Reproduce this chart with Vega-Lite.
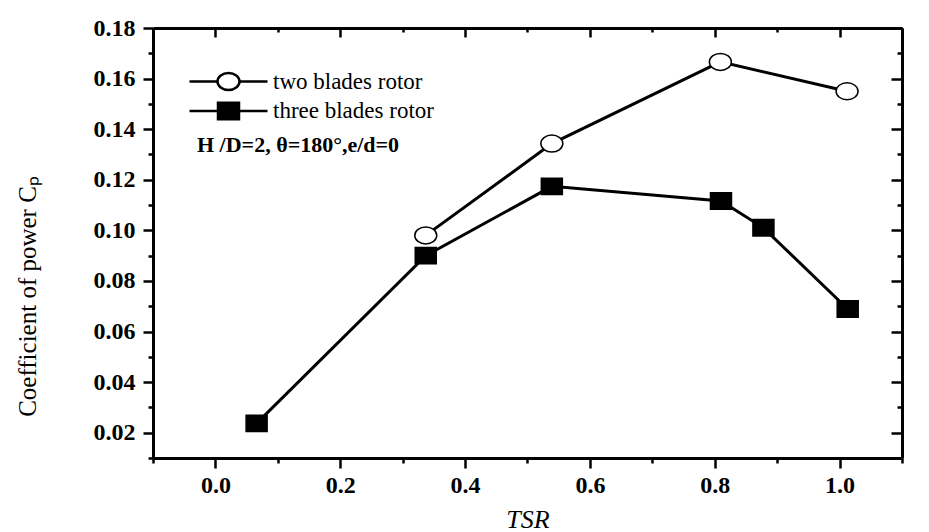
{
  "$schema": "https://vega.github.io/schema/vega-lite/v6.json",
  "width": 749,
  "height": 430,
  "autosize": "none",
  "padding": {"left": 153, "top": 28, "right": 27, "bottom": 74},
  "background": "white",
  "config": {
    "view": {"stroke": null},
    "axis": {
      "grid": false,
      "domainColor": "black",
      "domainWidth": 3,
      "tickColor": "black",
      "tickWidth": 2.5,
      "labelFont": "Liberation Serif",
      "labelFontWeight": "bold",
      "labelFontSize": 24,
      "labelColor": "black",
      "titleFont": "Liberation Serif",
      "titleFontWeight": "normal",
      "titleColor": "black"
    },
    "legend": {
      "orient": "none",
      "legendX": 44,
      "legendY": 42,
      "padding": 0,
      "titleOrient": "bottom",
      "titleAnchor": "start",
      "titleFont": "Liberation Serif",
      "titleFontWeight": "bold",
      "titleFontSize": 22,
      "titleColor": "black",
      "titlePadding": 11,
      "titleLimit": 0,
      "labelFont": "Liberation Serif",
      "labelFontSize": 23,
      "labelColor": "black",
      "labelOffset": 33,
      "labelLimit": 0,
      "symbolSize": 400,
      "symbolOffset": 20,
      "symbolStrokeColor": "black",
      "symbolStrokeWidth": 2.5,
      "rowPadding": 2.5
    }
  },
  "data": {
    "values": [
      {"series": "two blades rotor", "TSR": 0.337, "Cp": 0.098},
      {"series": "two blades rotor", "TSR": 0.539, "Cp": 0.1343},
      {"series": "two blades rotor", "TSR": 0.809, "Cp": 0.1666},
      {"series": "two blades rotor", "TSR": 1.012, "Cp": 0.155},
      {"series": "three blades rotor", "TSR": 0.066, "Cp": 0.0237},
      {"series": "three blades rotor", "TSR": 0.337, "Cp": 0.09},
      {"series": "three blades rotor", "TSR": 0.539, "Cp": 0.1174},
      {"series": "three blades rotor", "TSR": 0.81, "Cp": 0.1116},
      {"series": "three blades rotor", "TSR": 0.878, "Cp": 0.101},
      {"series": "three blades rotor", "TSR": 1.013, "Cp": 0.0689}
    ]
  },
  "layer": [
    {
      "mark": {"type": "line", "color": "black", "strokeWidth": 3},
      "encoding": {
        "x": {
          "field": "TSR", "type": "quantitative",
          "scale": {"domain": [-0.1, 1.1], "nice": false, "zero": false},
          "axis": {
            "orient": "bottom",
            "values": [-0.1, 0, 0.1, 0.2, 0.3, 0.4, 0.5, 0.6, 0.7, 0.8, 0.9, 1.0, 1.1],
            "labelExpr": "round(datum.value*10)%2==0 ? format(datum.value,'.1f') : ''",
            "tickSize": {"condition": {"test": "round(datum.value*10)%2==0", "value": 10}, "value": 5},
            "labelPadding": 5,
            "labelFlush": false,
            "labelOverlap": false,
            "title": "TSR",
            "titleFontStyle": "italic",
            "titleFontSize": 26,
            "titleY": 69,
            "titleBaseline": "alphabetic"
          }
        },
        "y": {
          "field": "Cp", "type": "quantitative",
          "scale": {"domain": [0.01, 0.18], "nice": false, "zero": false},
          "axis": {
            "orient": "left",
            "values": [0.01, 0.02, 0.03, 0.04, 0.05, 0.06, 0.07, 0.08, 0.09, 0.1, 0.11, 0.12, 0.13, 0.14, 0.15, 0.16, 0.17, 0.18],
            "labelExpr": "round(datum.value*100)%2==0 ? format(datum.value,'.2f') : ''",
            "tickSize": {"condition": {"test": "round(datum.value*100)%2==0", "value": 10}, "value": 5},
            "labelPadding": 8,
            "labelFlush": false,
            "labelOverlap": false,
            "title": "Coefficient of power Cₚ",
            "titleFontSize": 25,
            "titleX": -126,
            "titleY": 268,
            "titleAlign": "center",
            "titleBaseline": "middle",
            "titleAngle": -90
          }
        },
        "detail": {"field": "series", "type": "nominal"}
      }
    },
    {
      "mark": {"type": "point", "filled": true, "stroke": "black", "strokeWidth": 1.5, "size": 400, "opacity": 1},
      "encoding": {
        "x": {
          "field": "TSR", "type": "quantitative",
          "axis": {
            "orient": "top",
            "values": [-0.1, 0, 0.1, 0.2, 0.3, 0.4, 0.5, 0.6, 0.7, 0.8, 0.9, 1.0, 1.1],
            "labels": false,
            "title": null,
            "tickSize": {"condition": {"test": "round(datum.value*10)%2==0", "value": -9}, "value": -4}
          }
        },
        "y": {
          "field": "Cp", "type": "quantitative",
          "axis": {
            "orient": "right",
            "values": [0.01, 0.02, 0.03, 0.04, 0.05, 0.06, 0.07, 0.08, 0.09, 0.1, 0.11, 0.12, 0.13, 0.14, 0.15, 0.16, 0.17, 0.18],
            "labels": false,
            "title": null,
            "tickSize": {"condition": {"test": "round(datum.value*100)%2==0", "value": -11}, "value": -5}
          }
        },
        "shape": {
          "condition": {
            "test": "datum.series === 'two blades rotor'",
            "value": "M-1.1,0A1.1,0.85 0 1,0 1.1,0A1.1,0.85 0 1,0 -1.1,0Z"
          },
          "value": "M-1.05,-0.82H1.05V0.82H-1.05Z"
        },
        "fill": {
          "field": "series", "type": "nominal",
          "scale": {
            "domain": ["two blades rotor", "three blades rotor"],
            "range": ["white", "black"]
          },
          "legend": {
            "title": "H /D=2, θ=180°,e/d=0",
            "encoding": {
              "symbols": {
                "shape": {
                  "condition": {
                    "test": "datum.value === 'two blades rotor'",
                    "value": "M-3.9,0H-1.1M1.1,0H3.9M-1.1,0A1.1,0.85 0 1,0 1.1,0A1.1,0.85 0 1,0 -1.1,0Z"
                  },
                  "value": "M-3.9,0H-1.05M1.05,0H3.9M-1.05,-0.82H1.05V0.82H-1.05Z"
                },
                "stroke": {"value": "black"},
                "strokeWidth": {"value": 2.5}
              }
            }
          }
        }
      }
    }
  ],
  "resolve": {"axis": {"x": "independent", "y": "independent"}}
}
